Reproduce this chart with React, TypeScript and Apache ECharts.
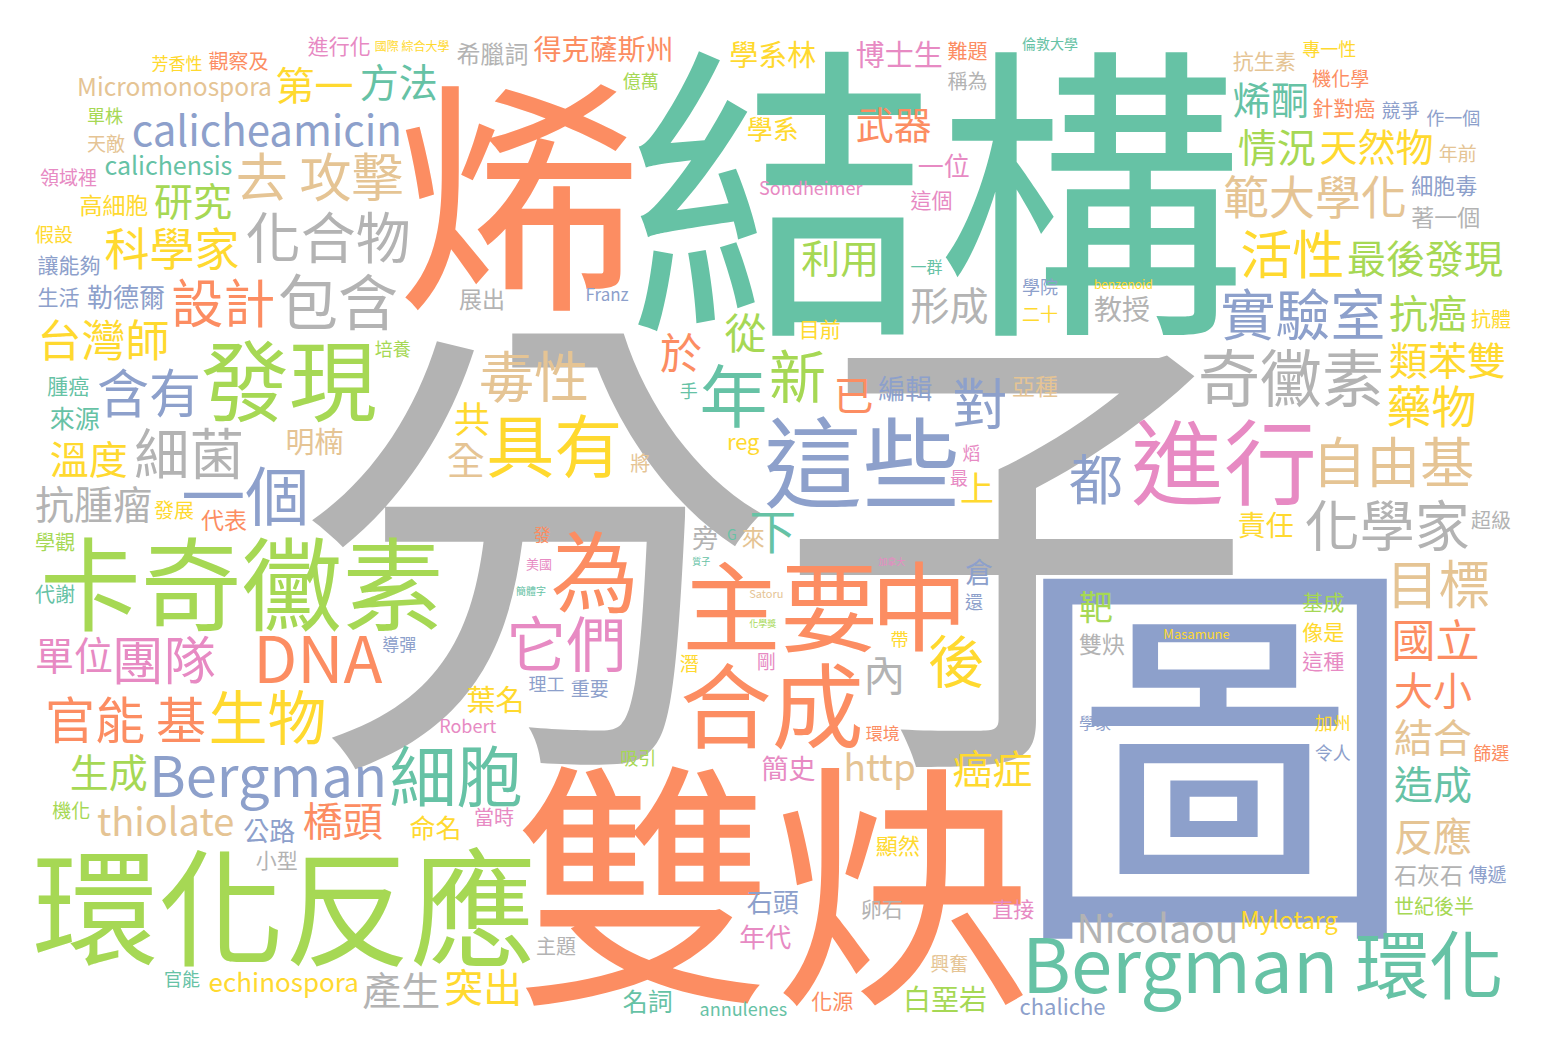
import React, { useEffect, useRef } from "react";
import * as echarts from "echarts";

// Set2 colours, keyed by a letter in the tone lists below
const TONE: Record<string, string> = {
  G: "#66c2a5",
  O: "#fc8d62",
  B: "#8da0cb",
  P: "#e78ac3",
  L: "#a6d854",
  Y: "#ffd92f",
  T: "#e5c494",
  R: "#b3b3b3",
};

const leadWords = ["分子", "圖", "結構", "雙炔", "烯", "環化反應", "卡奇黴素", "主要", "這些", "中", "進行", "合成", "發現", "為", "Bergman 環化"];
const leadCounts = [960, 820, 636, 520, 490, 276, 208, 196, 196, 194, 186, 184, 176, 176, 174];
const leadTones = ["R", "B", "G", "O", "O", "L", "L", "O", "B", "O", "P", "O", "L", "O", "G"];

const midWords = [
  "年", "具有", "細胞", "DNA", "一個", "奇黴素", "Bergman", "包含", "它們", "生物",
  "新", "後", "化學家", "毒性", "實驗室", "化合物", "細菌", "對", "自由基", "都",
  "團隊", "設計", "含有", "活性", "去 攻擊", "目標", "官能 基", "下", "範大學化", "藥物",
  "科學家", "台灣師", "國立", "calicheamicin", "內", "於", "從", "已", "癌症", "橋頭",
  "Nicolaou", "thiolate", "http",
];
const midCounts = [
  136, 136, 134, 128, 128, 124, 112, 120, 120, 118,
  114, 114, 110, 110, 110, 110, 110, 110, 108, 108,
  104, 104, 104, 104, 104, 104, 100, 94, 92, 90,
  90, 88, 88, 84, 84, 84, 84, 80, 80, 80,
  78, 76, 74,
];
const midTones = [
  "G", "Y", "G", "O", "B", "R", "B", "R", "P", "Y",
  "L", "Y", "R", "T", "B", "R", "R", "B", "T", "B",
  "P", "O", "B", "Y", "T", "T", "O", "G", "T", "Y",
  "Y", "Y", "O", "B", "R", "O", "L", "O", "Y", "O",
  "R", "T", "T",
];

const minorWords = [
  "抗腫瘤", "最後發現", "形成", "類苯雙", "溫度", "大小", "抗癌", "結合", "單位", "突出",
  "利用", "生成", "情況", "研究", "造成", "方法", "產生", "反應", "第一", "武器",
  "烯酮", "天然物", "全", "共", "靶", "上", "葉名", "明楠", "學系林", "博士生",
  "得克薩斯州", "教授", "白堊岩", "責任", "倉", "Micromonospora", "簡史", "編輯", "勒德爾", "命名",
  "石頭", "學系", "年代", "一位", "公路", "旁", "echinospora", "來源", "名詞", "calichensis",
  "Mylotarg",
];
const minorCounts = [
  78, 78, 78, 78, 78, 78, 78, 78, 78, 78,
  78, 78, 78, 78, 78, 78, 78, 78, 78, 76,
  76, 76, 76, 72, 68, 68, 58, 58, 58, 58,
  56, 56, 56, 56, 56, 49, 54, 54, 52, 52,
  52, 52, 52, 52, 52, 52, 52, 50, 50, 50,
  48,
];
const minorTones = [
  "R", "L", "R", "Y", "Y", "O", "L", "T", "P", "Y",
  "L", "L", "L", "L", "G", "G", "R", "T", "Y", "O",
  "G", "Y", "T", "Y", "L", "Y", "Y", "T", "Y", "P",
  "O", "R", "L", "Y", "B", "T", "P", "B", "B", "Y",
  "B", "Y", "P", "P", "B", "R", "Y", "G", "G", "G",
  "Y",
];

const smallWords = [
  "希臘詞", "雙炔", "著一個", "展出", "高細胞", "石灰石", "代表", "亞種", "來", "reg",
  "chaliche", "顯然", "細胞毒", "目前", "這個", "基成", "像是", "這種", "卵石", "直接",
  "小型", "讓能夠", "化源", "腫癌", "針對癌", "生活", "進行化", "抗生素", "世紀後半", "主題",
  "稱為", "超級", "學觀", "代謝", "觀察及", "當時", "發展", "難題", "抗體", "將",
];
const smallCounts = [
  48, 46, 46, 46, 46, 46, 46, 46, 46, 44,
  44, 44, 44, 42, 42, 42, 42, 42, 42, 42,
  42, 42, 42, 42, 42, 42, 42, 42, 40, 40,
  40, 40, 40, 40, 40, 40, 40, 40, 40, 40,
];
const smallTones = [
  "R", "R", "R", "R", "Y", "R", "O", "T", "T", "Y",
  "B", "Y", "B", "Y", "P", "L", "Y", "P", "R", "P",
  "R", "B", "O", "G", "O", "B", "P", "T", "L", "R",
  "R", "R", "L", "G", "O", "P", "Y", "O", "Y", "T",
];

const tinyWords = [
  "領域裡", "興奮", "機化學", "剛", "機化", "潛", "假設", "天敵", "競爭", "年前",
  "重要", "傳遞", "最", "吸引", "手", "專一性", "二十", "熖", "還", "學院",
  "篩選", "培養", "加州", "理工", "官能", "令人", "帶", "單株", "作一個", "億萬",
  "Sondheimer", "Robert", "annulenes", "Franz", "發", "環境", "導彈", "芳香性", "一群", "學家",
  "倫敦大學", "G", "美國", "Masamune", "benzenoid", "國際 綜合大學", "Satoru", "簡體字", "加拿大", "化學獎",
  "質子",
];
const tinyCounts = [
  38, 38, 38, 38, 38, 38, 38, 38, 38, 38,
  38, 38, 36, 36, 36, 36, 36, 36, 36, 36,
  36, 36, 36, 36, 36, 36, 36, 36, 36, 36,
  36, 36, 36, 34, 34, 34, 34, 34, 32, 32,
  28, 28, 26, 26, 24, 24, 22, 20, 18, 18,
  18,
];
const tinyTones = [
  "P", "T", "O", "P", "L", "Y", "Y", "T", "B", "T",
  "B", "B", "P", "L", "G", "Y", "Y", "P", "B", "B",
  "O", "L", "Y", "B", "G", "B", "Y", "L", "B", "L",
  "P", "P", "G", "B", "O", "O", "B", "Y", "G", "B",
  "G", "G", "P", "Y", "Y", "Y", "T", "G", "P", "L",
  "G",
];

const FONT = '"Noto Sans CJK TC", "Noto Sans CJK SC", sans-serif';
const PX_PER_COUNT = 0.5; // font px for one count
const MIN_PX = 8;
const AREA = { x: 30, y: 28, w: 1488, h: 992 };
const GRID_W = 600;
const GRID_H = 400;
const MARGIN = 2;

type Item = { word: string; count: number; color: string };
type Placed = { word: string; size: number; color: string; x: number; y: number };

function collect(words: string[], counts: number[], tones: string[]): Item[] {
  return words.map((w, i) => ({ word: w, count: counts[i], color: TONE[tones[i]] }));
}

// word cloud placement: biggest first, each into the free spot nearest the centre
function layoutCloud(items: Item[]): Placed[] {
  const s = GRID_W / AREA.w;
  const gw = GRID_W;
  const gh = GRID_H;
  const W1 = gw + 1;
  const occ = new Uint8Array(gw * gh);
  const integ = new Int32Array(W1 * (gh + 1));
  const canvas = document.createElement("canvas");
  const ctx = canvas.getContext("2d", { willReadFrequently: true }) as CanvasRenderingContext2D;
  const out: Placed[] = [];
  const sorted = [...items].sort((a, b) => b.count - a.count);

  for (const it of sorted) {
    let fs = it.count * PX_PER_COUNT;
    while (fs >= MIN_PX) {
      const font = `${fs * s}px ${FONT}`;
      ctx.font = font;
      ctx.textBaseline = "middle";
      ctx.textAlign = "left";
      const m = ctx.measureText(it.word);
      const inkL = Math.floor(-m.actualBoundingBoxLeft);
      const inkR = Math.ceil(m.actualBoundingBoxRight);
      const inkT = Math.floor(-m.actualBoundingBoxAscent);
      const inkB = Math.ceil(m.actualBoundingBoxDescent);
      const tw = inkR - inkL + 2;
      const th = inkB - inkT + 2;
      const bw = tw + MARGIN;
      const bh = th + MARGIN;
      const nextFs = fs - Math.max(1 / s, fs * 0.03);
      if (bw >= gw || bh >= gh) {
        fs = nextFs;
        continue;
      }
      let best = -1;
      let bestD = Infinity;
      const maxX = gw - bw;
      const maxY = gh - bh;
      const hx = gw / 2;
      const hy = gh / 2;
      for (let y = 0; y <= maxY; y++) {
        const r0 = y * W1;
        const r1 = (y + bh) * W1;
        const dy = (y + bh / 2 - hy) / hy;
        const dy2 = dy * dy;
        if (dy2 > bestD) continue;
        for (let x = 0; x <= maxX; x++) {
          if (integ[r1 + x + bw] - integ[r0 + x + bw] - integ[r1 + x] + integ[r0 + x] === 0) {
            const dx = (x + bw / 2 - hx) / hx;
            const d = dx * dx + dy2;
            if (d < bestD) {
              bestD = d;
              best = y * gw + x;
            }
          }
        }
      }
      if (best < 0) {
        fs = nextFs;
        continue;
      }
      const px = best % gw;
      const py = Math.floor(best / gw);

      canvas.width = tw;
      canvas.height = th;
      ctx.font = font;
      ctx.textBaseline = "middle";
      ctx.textAlign = "left";
      ctx.fillStyle = "#000";
      const ox = 1 - inkL;
      const oy = 1 - inkT;
      ctx.fillText(it.word, ox, oy);
      const data = ctx.getImageData(0, 0, tw, th).data;
      const bx = px + MARGIN / 2;
      const by = py + MARGIN / 2;
      for (let j = 0; j < th; j++) {
        for (let i = 0; i < tw; i++) {
          if (data[(j * tw + i) * 4 + 3] > 0) occ[(by + j) * gw + bx + i] = 1;
        }
      }
      for (let r = by + 1; r <= gh; r++) {
        let rowSum = 0;
        const src = (r - 1) * gw;
        const dst = r * W1;
        const prev = (r - 1) * W1;
        for (let c = 1; c <= gw; c++) {
          rowSum += occ[src + c - 1];
          integ[dst + c] = integ[prev + c] + rowSum;
        }
      }
      out.push({
        word: it.word,
        size: fs,
        color: it.color,
        x: AREA.x + (bx + ox) / s,
        y: AREA.y + (by + oy) / s,
      });
      break;
    }
  }
  return out;
}

const WordCloud: React.FC = () => {
  const chartRef = useRef<HTMLDivElement | null>(null);

  useEffect(() => {
    document.body.style.margin = "0";
    if (!chartRef.current) return;
    const myChart = echarts.init(chartRef.current, undefined, { renderer: "svg" });

    const items = [
      ...collect(leadWords, leadCounts, leadTones),
      ...collect(midWords, midCounts, midTones),
      ...collect(minorWords, minorCounts, minorTones),
      ...collect(smallWords, smallCounts, smallTones),
      ...collect(tinyWords, tinyCounts, tinyTones),
    ];
    const placed = layoutCloud(items);

    const option = {
      backgroundColor: "#ffffff",
      animation: false,
      series: [
        {
          type: "custom",
          coordinateSystem: "none",
          silent: true,
          data: placed.map((_, i) => [i]),
          renderItem: (params: any) => {
            const p = placed[params.dataIndex];
            return {
              type: "text",
              x: p.x,
              y: p.y,
              style: {
                text: p.word,
                fontSize: p.size,
                fontFamily: FONT,
                fill: p.color,
                align: "left",
                verticalAlign: "middle",
              },
            };
          },
        },
      ],
    };

    myChart.setOption(option as any);

    return () => {
      myChart.dispose();
    };
  }, []);

  return <div ref={chartRef} style={{ width: "1548px", height: "1052px" }} />;
};

export default function App() {
  return <WordCloud />;
}
